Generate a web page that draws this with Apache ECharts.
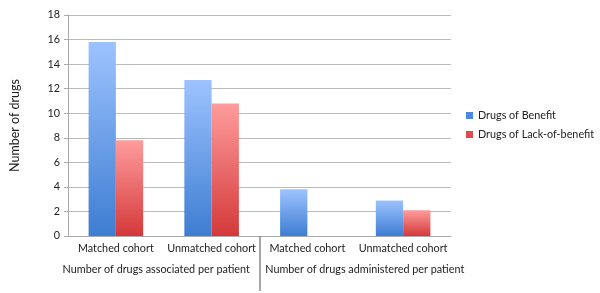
<!DOCTYPE html>
<html>
<head>
<meta charset="utf-8">
<script src="https://cdn.jsdelivr.net/npm/echarts@6/dist/echarts.min.js"></script>
<style>
    html, body { margin: 0; padding: 0; background: #fff; }
    #chart { width: 600px; height: 293px; }
</style>
</head>
<body>
<div id="chart"></div>
<script>
const cohorts = ['Matched cohort', 'Unmatched cohort', 'Matched cohort', 'Unmatched cohort']
const groups = ['Number of drugs associated per patient', 'Number of drugs administered per patient']
const benefit = [15.8, 12.7, 3.8, 2.9]
const lackOfBenefit = [7.8, 10.8, 0, 2.1]

const font = 'Lato'
const labelSize = 10.8
const chartInstance = echarts.init(document.getElementById('chart'))

const option = {
    animation: false,
    textStyle: { fontFamily: font },
    grid: {
        left: 64,
        top: 15,
        width: 387,
        height: 221
    },
    legend: {
        orient: 'vertical',
        left: 461,
        top: 105,
        itemWidth: 7,
        itemHeight: 7,
        itemGap: 8,
        icon: 'rect',
        textStyle: { fontSize: labelSize, color: '#222', fontFamily: font },
        data: [
            { name: 'Drugs of Benefit', itemStyle: { color: '#4d88e0' } },
            { name: 'Drugs of Lack-of-benefit', itemStyle: { color: '#e04a4c' } }
        ]
    },
    xAxis: [
        {
            type: 'category',
            data: cohorts,
            axisLine: { lineStyle: { color: '#aaa', width: 1 } },
            axisTick: { show: false },
            axisLabel: { interval: 0, color: '#222', fontSize: labelSize, margin: 7 }
        },
        {
            // group labels, nudged away from the separator
            type: 'category',
            data: groups,
            position: 'bottom',
            axisLine: { show: false },
            axisTick: { show: false },
            axisLabel: {
                interval: 0,
                margin: 28,
                formatter: function (value, index) {
                    return index === 0 ? '{l|' + value + '}' : '{r|' + value + '}'
                },
                rich: {
                    l: { color: '#222', fontSize: labelSize, padding: [0, 15, 0, 0] },
                    r: { color: '#222', fontSize: labelSize, padding: [0, 0, 0, 19] }
                }
            }
        },
        {
            // separator between the two groups
            type: 'value',
            min: 0,
            max: 2,
            position: 'bottom',
            splitLine: { show: false },
            axisLine: { show: false },
            axisLabel: { show: false },
            axisTick: {
                show: true,
                customValues: [1],
                length: 55,
                lineStyle: { color: '#888', width: 1.5 }
            }
        }
    ],
    yAxis: {
        type: 'value',
        min: 0,
        max: 18,
        interval: 2,
        name: 'Number of drugs',
        nameLocation: 'middle',
        nameGap: 47,
        nameTextStyle: { fontSize: 12.5, color: '#222' },
        axisLine: { show: true, lineStyle: { color: '#aaa' } },
        axisTick: { show: true, length: 4, lineStyle: { color: '#aaa' } },
        axisLabel: { color: '#222', fontSize: labelSize, margin: 8 },
        splitLine: { lineStyle: { color: '#bbb', width: 1 } }
    },
    series: [
        {
            name: 'Drugs of Benefit',
            type: 'bar',
            data: benefit,
            barGap: 0,
            barCategoryGap: '43%',
            itemStyle: {
                color: new echarts.graphic.LinearGradient(0, 0, 0, 1, [
                    { offset: 0, color: '#9dc3ff' },
                    { offset: 1, color: '#3e7dd2' }
                ])
            }
        },
        {
            name: 'Drugs of Lack-of-benefit',
            type: 'bar',
            data: lackOfBenefit,
            itemStyle: {
                color: new echarts.graphic.LinearGradient(0, 0, 0, 1, [
                    { offset: 0, color: '#ff9c9c' },
                    { offset: 1, color: '#d4393a' }
                ])
            }
        }
    ]
}
chartInstance.setOption(option)
</script>
</body>
</html>
